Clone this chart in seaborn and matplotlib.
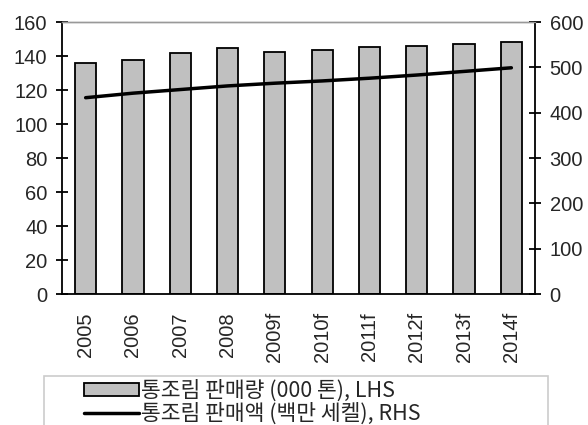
import matplotlib
matplotlib.use("Agg")
import matplotlib.pyplot as plt
import seaborn as sns
import pandas as pd
import numpy as np
from matplotlib.patches import Rectangle, Patch
from matplotlib.lines import Line2D

years = ["2005", "2006", "2007", "2008", "2009f", "2010f", "2011f", "2012f", "2013f", "2014f"]
volume = [135.7, 137.6, 141.6, 144.9, 142.5, 143.5, 145.0, 146.0, 147.2, 148.0]   # LHS, 000 tonnes
value = [433, 443, 451, 459, 465, 470, 476, 483, 491, 499]                         # RHS, million shekels
left_ticks = [0, 20, 40, 60, 80, 100, 120, 140, 160]
right_ticks = [0, 100, 200, 300, 400, 500, 600]
label_bar = "통조림 판매량 (000 톤), LHS"
label_line = "통조림 판매액 (백만 세켈), RHS"

sns.set_style("white")
plt.rcParams['font.family'] = ['Liberation Sans', 'Noto Sans CJK KR', 'DejaVu Sans']

fig = plt.figure(figsize=(5.88, 4.25), dpi=100)
ax = fig.add_axes([62/588, 1-294/425, (535-62)/588, (294-22)/425])

df = pd.DataFrame({"year": years, "volume": volume})
sns.barplot(data=df, x="year", y="volume", color="#c0c0c0", width=0.45,
            edgecolor="black", linewidth=1.3, saturation=1, ax=ax, zorder=2)
for p in ax.patches:
    p.set_facecolor("#c0c0c0")

ax2 = ax.twinx()
sns.lineplot(x=np.arange(len(years)), y=value, color="black", linewidth=2.5, ax=ax2, zorder=3)

n = len(years)
ax.set_xlim(-0.5, n - 0.5)
ax.set_ylim(0, 160)
ax2.set_ylim(0, 600)
ax.set_yticks(left_ticks)
ax2.set_yticks(right_ticks)
ax.set_xticks(range(n))
ax.set_xticklabels(years, rotation=90)
ax.set_xticks(np.arange(-0.5, n, 1.0), minor=True)
ax.set_xlabel("")
ax.set_ylabel("")
ax2.set_ylabel("")

ax.tick_params(axis="x", which="major", length=0, pad=13, labelsize=14.5)
ax.tick_params(axis="x", which="minor", direction="inout", length=9, width=1.3, color="black")
ax.tick_params(axis="y", direction="inout", length=9, width=1.3, color="black", pad=6, labelsize=14.5, left=True)
ax2.tick_params(axis="y", direction="inout", length=9, width=1.3, color="black", pad=6, labelsize=14.5, right=True)

for a in (ax, ax2):
    for s in ["left", "right", "bottom"]:
        a.spines[s].set_color("black")
        a.spines[s].set_linewidth(1.3)
    a.spines["top"].set_color("#999999")
    a.spines["top"].set_linewidth(1.0)
ax.spines["right"].set_visible(False)
ax2.spines["left"].set_visible(False)
ax2.spines["bottom"].set_visible(False)

# legend box
fig.patches.append(Rectangle((44/588, -0.05), (548-44)/588, 1-376/425+0.05,
                             transform=fig.transFigure, facecolor="white",
                             edgecolor="#cccccc", linewidth=1.2))
legend_font = {"family": ["Noto Sans CJK KR"], "size": 15.5}
h_bar = Patch(facecolor="#c0c0c0", edgecolor="black", linewidth=1.3)
h_line = Line2D([0], [0], color="black", linewidth=2.5)
for h, lab, yc in [(h_bar, label_bar, 391), (h_line, label_line, 414)]:
    fig.legend([h], [lab], loc="center left", bbox_to_anchor=(84/588, 1-yc/425),
               frameon=False, prop=legend_font, handlelength=2.55,
               handletextpad=0.08, borderpad=0, borderaxespad=0, handleheight=0.5)

fig.savefig("out.png", dpi=100)
